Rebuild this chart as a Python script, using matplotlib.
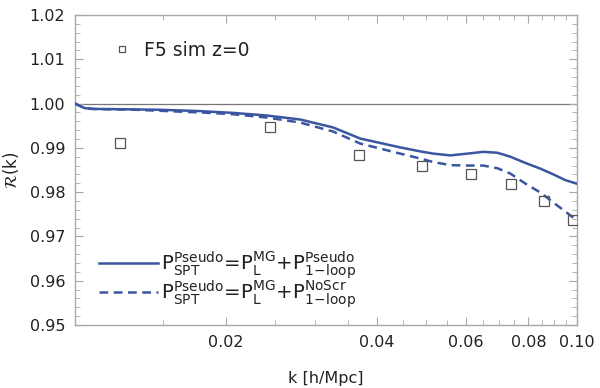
import matplotlib
matplotlib.use("Agg")
import matplotlib.pyplot as plt
from matplotlib.ticker import FixedLocator, NullFormatter

plt.rcParams['font.family'] = ['DejaVu Sans']
plt.rcParams['mathtext.fontset'] = 'dejavusans'

# simulation points
sim_k = [0.01229, 0.02447, 0.03683, 0.04918, 0.0616, 0.07401, 0.0861, 0.0983]
sim_R = [0.9912, 0.9948, 0.9883, 0.9858, 0.9842, 0.9819, 0.9779, 0.9736]

# Pseudo 1-loop curve
pseudo_k = [0.01, 0.01047, 0.01096, 0.01287, 0.01477, 0.01775, 0.02065, 0.02414,
            0.02810, 0.03269, 0.03700, 0.04446, 0.04873, 0.05172, 0.05592, 0.06046,
            0.06509, 0.0694, 0.07365, 0.07889, 0.08453, 0.08974, 0.09482, 0.1]
pseudo_R = [1.0000, 0.99895, 0.99880, 0.99870, 0.99860, 0.99830, 0.99790, 0.99730,
            0.99640, 0.99460, 0.99210, 0.99010, 0.98920, 0.98870, 0.98830, 0.98870,
            0.98910, 0.98890, 0.98800, 0.98660, 0.98530, 0.98400, 0.98270, 0.98190]

# NoScr 1-loop curve
noscr_k = [0.01, 0.01047, 0.01096, 0.01287, 0.01775, 0.02065, 0.02414, 0.02810,
           0.03269, 0.03700, 0.04446, 0.04873, 0.05172, 0.05592, 0.06046, 0.06509,
           0.0694, 0.07365, 0.07889, 0.08453, 0.08974, 0.09482, 0.1]
noscr_R = [1.0000, 0.99890, 0.99875, 0.99865, 0.99800, 0.99760, 0.99684, 0.99571,
           0.99368, 0.99097, 0.98870, 0.98758, 0.98680, 0.98610, 0.98600, 0.98600,
           0.98540, 0.98420, 0.98194, 0.97991, 0.97765, 0.97560, 0.97359]

x_major = [0.02, 0.04, 0.06, 0.08, 0.10]
x_major_labels = ['0.02', '0.04', '0.06', '0.08', '0.10']
x_minor = [0.015, 0.025, 0.03, 0.035, 0.045, 0.05, 0.055, 0.065, 0.07, 0.075,
           0.085, 0.09, 0.095]
y_major = [0.95, 0.96, 0.97, 0.98, 0.99, 1.00, 1.01, 1.02]
y_major_labels = ['0.95', '0.96', '0.97', '0.98', '0.99', '1.00', '1.01', '1.02']

blue = '#3b56a0'
frame = '#a8a8a8'

fig = plt.figure(figsize=(6.0, 3.88), dpi=100)
ax = fig.add_axes([0.125, 0.1624, 0.8367, 0.7989])
ax.set_xscale('log')
ax.set_xlim(0.01, 0.1)
ax.set_ylim(0.95, 1.02)

ax.axhline(1.0, color='#777777', lw=0.9, zorder=1)

l1, = ax.plot(pseudo_k, pseudo_R, color=blue, lw=1.8, zorder=3)
l2, = ax.plot(noscr_k, noscr_R, color=blue, lw=1.8, ls=(0, (3.5, 2.2)), zorder=3)
sc, = ax.plot(sim_k, sim_R, ls='none', marker='s', ms=7.5, mfc='none',
              mec='#555555', mew=0.9, zorder=4)

ax.xaxis.set_major_locator(FixedLocator(x_major))
ax.xaxis.set_minor_locator(FixedLocator(x_minor))
ax.set_xticklabels(x_major_labels)
ax.xaxis.set_minor_formatter(NullFormatter())
ax.yaxis.set_major_locator(FixedLocator(y_major))
ax.set_yticklabels(y_major_labels)
ax.yaxis.set_minor_locator(FixedLocator([0.95 + 0.002 * i for i in range(36)]))

for s in ax.spines.values():
    s.set_color(frame)
    s.set_linewidth(1.0)
ax.tick_params(which='both', direction='in', top=True, right=True, color=frame,
               labelsize=11.5, labelcolor='#222222')
ax.tick_params(which='major', length=6, width=0.8, pad=7)
ax.tick_params(which='minor', length=3.5, width=0.6)

ax.set_xlabel('k [h/Mpc]', fontsize=11.5, color='#222222', labelpad=15)
ax.set_ylabel(r'$\mathcal{R}$(k)', fontsize=12, color='#222222', labelpad=6)

leg1 = ax.legend([sc], ['F5 sim z=0'], loc='upper left', bbox_to_anchor=(0.045, 0.972),
                 frameon=False, fontsize=13.5, handlelength=0.8, handletextpad=0.75,
                 markerscale=0.65, labelcolor='#222222')
ax.add_artist(leg1)

lab1 = (r'$\mathrm{P}_{\mathrm{SPT}}^{\mathrm{Pseudo}}$=$\mathrm{P}_{\mathrm{L}}^{\mathrm{MG}}$'
        r'+$\mathrm{P}_{1\!-\!\mathrm{loop}}^{\mathrm{Pseudo}}$')
lab2 = (r'$\mathrm{P}_{\mathrm{SPT}}^{\mathrm{Pseudo}}$=$\mathrm{P}_{\mathrm{L}}^{\mathrm{MG}}$'
        r'+$\mathrm{P}_{1\!-\!\mathrm{loop}}^{\mathrm{NoScr}}$')
ax.legend([l1, l2], [lab1, lab2], loc='lower left', bbox_to_anchor=(0.012, -0.01),
          frameon=False, fontsize=14.2, handlelength=3.0, handletextpad=0.15,
          labelspacing=-0.12, labelcolor='#222222')

fig.savefig('out.png', dpi=100)
